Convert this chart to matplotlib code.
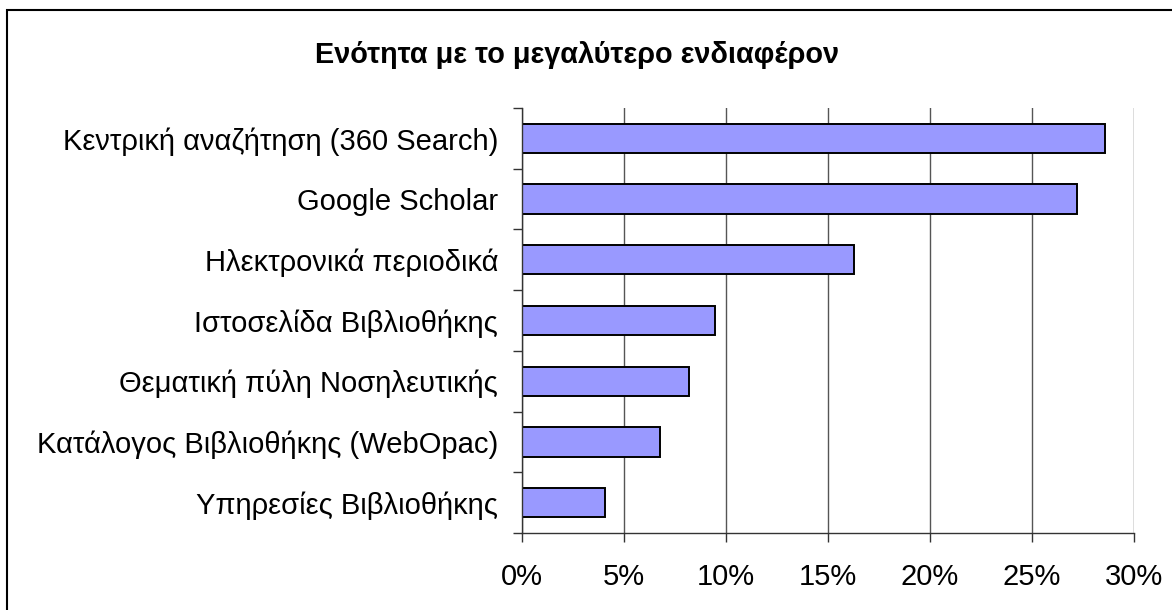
import numpy as np
import matplotlib
matplotlib.use("Agg")
import matplotlib.pyplot as plt
from matplotlib.patches import Rectangle
from matplotlib.ticker import FixedLocator, FuncFormatter

plt.rcParams['font.family'] = ['Liberation Sans', 'DejaVu Sans']

############################# Data ####################################
categories = ["Κεντρική αναζήτηση (360 Search)", "Google Scholar", "Ηλεκτρονικά περιοδικά",
              "Ιστοσελίδα Βιβλιοθήκης", "Θεματική πύλη Νοσηλευτικής",
              "Κατάλογος Βιβλιοθήκης (WebOpac)", "Υπηρεσίες Βιβλιοθήκης"]
share = [28.6, 27.2, 16.3, 9.5, 8.2, 6.8, 4.1]  # percent
xticks = [0, 5, 10, 15, 20, 25, 30]
title = "Ενότητα με το μεγαλύτερο ενδιαφέρον"

############################# Plot ####################################
fig = plt.figure(figsize=(11.72, 6.10), dpi=100)
ax = fig.add_axes([0.4451, 0.1262, 0.5222, 0.6968])

ypos = np.arange(len(categories))
ax.barh(ypos, share, height=0.48, color="#9999FF", edgecolor="black", linewidth=1.4, zorder=3)

ax.set_xlim(0, 30)
ax.set_ylim(len(categories) - 0.5, -0.5)
ax.set_xticks(xticks)
ax.xaxis.set_major_formatter(FuncFormatter(lambda v, p: "%d%%" % v))
ax.grid(axis="x", color="#555555", linewidth=1.0, zorder=0)

ax.set_yticks(ypos)
ax.set_yticklabels(categories)
ax.yaxis.set_minor_locator(FixedLocator(np.arange(len(categories) + 1) - 0.5))
ax.tick_params(axis="y", which="major", length=0, pad=17, labelsize=21)
ax.tick_params(axis="y", which="minor", length=6.5, width=1.0, color="#333333")
ax.tick_params(axis="x", length=6.5, width=1.0, color="#333333", pad=15, labelsize=21)

for s in ["top", "right"]:
    ax.spines[s].set_visible(False)
for s in ["left", "bottom"]:
    ax.spines[s].set_color("#333333")
    ax.spines[s].set_linewidth(1.0)
    ax.spines[s].set_zorder(4)

fig.text(0.492, 0.91, title, ha="center", va="center", fontsize=20.8, fontweight="bold")

# outer chart border (cut off at right/bottom like the original)
fig.patches.append(Rectangle((7 / 1172, -0.1), 2, 1.1 - 10 / 610, transform=fig.transFigure,
                             fill=False, edgecolor="black", linewidth=1.5))

fig.savefig("out.png", dpi=100)
